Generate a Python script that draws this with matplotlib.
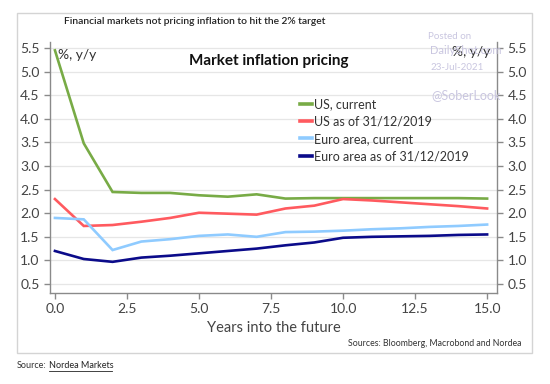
import matplotlib.pyplot as plt
from matplotlib.patches import Rectangle

plt.rcParams['font.family'] = ['Lato', 'DejaVu Sans']

# Years into the future
years = list(range(16))

# Breakeven inflation curves, % y/y
us_current = [5.45, 3.48, 2.45, 2.43, 2.43, 2.38, 2.35, 2.40, 2.31, 2.32, 2.32, 2.32, 2.32, 2.32, 2.32, 2.31]
us_2019 = [2.30, 1.73, 1.75, 1.82, 1.90, 2.01, 1.99, 1.97, 2.10, 2.16, 2.30, 2.27, 2.23, 2.19, 2.15, 2.10]
euro_current = [1.90, 1.87, 1.22, 1.40, 1.45, 1.52, 1.55, 1.50, 1.60, 1.61, 1.63, 1.66, 1.68, 1.71, 1.73, 1.76]
euro_2019 = [1.20, 1.03, 0.97, 1.06, 1.10, 1.15, 1.20, 1.25, 1.32, 1.38, 1.48, 1.50, 1.51, 1.52, 1.54, 1.55]

labels = ['US, current', 'US as of 31/12/2019', 'Euro area, current', 'Euro area as of 31/12/2019']
colors = ['#78AB46', '#FF5A5F', '#8FCBFF', '#0B0B8A']

xticks = [0.0, 2.5, 5.0, 7.5, 10.0, 12.5, 15.0]
yticks = [0.5, 1.0, 1.5, 2.0, 2.5, 3.0, 3.5, 4.0, 4.5, 5.0, 5.5]

fig = plt.figure(figsize=(5.5, 3.84), dpi=100)
ax = fig.add_axes([0.091, 0.237, 0.813, 0.654])

for vals, lab, c in zip([us_current, us_2019, euro_current, euro_2019], labels, colors):
    ax.plot(years, vals, color=c, lw=1.9, label=lab, solid_joinstyle='miter')

ax.set_xlim(-0.17, 15.35)
ax.set_ylim(0.31, 5.63)
ax.set_xticks(xticks)
ax.set_xticklabels(['%.1f' % t for t in xticks])
ax.set_yticks(yticks)
ax.set_yticklabels(['%.1f' % t for t in yticks])
ax.grid(axis='y', color='#E6E6E6', lw=0.9)
ax.set_axisbelow(True)

for s in ['left', 'right', 'bottom']:
    ax.spines[s].set_color('#8A8A8A')
    ax.spines[s].set_linewidth(1.0)
ax.spines['top'].set_visible(False)

ax.tick_params(axis='both', colors='#8A8A8A', labelcolor='#444444', labelsize=10, length=4, width=1)
ax.tick_params(axis='y', left=True, right=True, labelleft=True, labelright=True)

ax.set_xlabel('Years into the future', fontsize=10.5, color='#444444', labelpad=4)

ax.text(0.018, 0.972, '%, y/y', transform=ax.transAxes, fontsize=10, color='#333333', va='top', ha='left')
ax.text(0.985, 0.985, '%, y/y', transform=ax.transAxes, fontsize=10, color='#333333', va='top', ha='right')
ax.text(0.49, 0.95, 'Market inflation pricing', transform=ax.transAxes, fontsize=11, fontweight='bold',
        color='#111111', ha='center', va='top')

leg = ax.legend(loc='upper left', bbox_to_anchor=(0.545, 0.80), frameon=False, fontsize=9,
                handlelength=0.95, handletextpad=0.15, labelspacing=0.42, borderpad=0)
for t in leg.get_texts():
    t.set_color('#333333')
for h in leg.get_lines():
    h.set_linewidth(2.6)

# outer frame
fig.patches.append(Rectangle((0.031, 0.081), 0.937, 0.885, transform=fig.transFigure,
                             fill=False, edgecolor='#D4D4D4', lw=1.0))

fig.text(0.116, 0.943, 'Financial markets not pricing inflation to hit the 2% target',
         fontsize=7.4, color='#222222', fontweight='semibold', va='center')
fig.text(0.948, 0.106, 'Sources: Bloomberg, Macrobond and Nordea', fontsize=6.3, color='#333333',
         ha='right', va='center')
fig.text(0.031, 0.047, 'Source:', fontsize=6.5, color='#333333', va='center')
fig.text(0.089, 0.047, 'Nordea Markets', fontsize=6.5, color='#222222', va='center')
fig.add_artist(plt.Line2D([0.089, 0.203], [0.033, 0.033], transform=fig.transFigure, color='#222222', lw=0.6))

# watermark
wm = '#C9C6E0'
fig.text(0.778, 0.905, 'Posted on', fontsize=7, color=wm, va='center')
fig.text(0.782, 0.869, 'DailyShot.com', fontsize=8, color=wm, va='center')
fig.text(0.782, 0.823, '23-Jul-2021', fontsize=7, color=wm, va='center')
fig.text(0.785, 0.752, '@SoberLook', fontsize=9, color=wm, va='center')

fig.savefig('out.png', dpi=100)
